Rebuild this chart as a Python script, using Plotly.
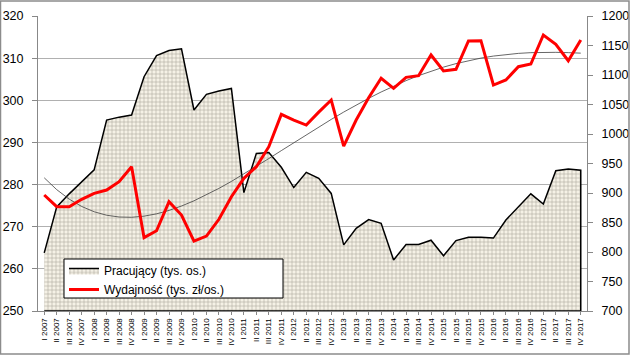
import numpy as np
import plotly.graph_objects as go

quarters = ["I", "II", "III", "IV"]
years = list(range(2007, 2018))
categories = [f"{q} {y}" for y in years for q in quarters]

pracujacy = [263.8, 274.7, 277.8, 280.6, 283.5, 295.3, 296.0, 296.5, 305.6, 310.6,
             311.8, 312.2, 297.7, 301.4, 302.2, 302.8, 278.1, 287.4, 287.6, 284.1,
             279.3, 282.9, 281.5, 277.9, 265.7, 269.6, 271.7, 270.8, 262.1, 265.8,
             265.8, 266.8, 263.1, 266.7, 267.5, 267.5, 267.3, 271.6, 274.7, 277.8,
             275.4, 283.3, 283.7, 283.4]

wydajnosc = [896.6, 876.8, 876.8, 889.3, 899.5, 905.0, 919.2, 944.6, 824.3, 836.0,
             885.3, 862.7, 818.6, 827.0, 855.4, 893.7, 924.9, 944.6, 978.5, 1033.3,
             1023.7, 1015.2, 1037.0, 1057.6, 979.6, 1023.7, 1061.6, 1094.4, 1077.4, 1096.0,
             1098.8, 1133.9, 1106.8, 1109.6, 1157.6, 1158.2, 1083.0, 1091.5, 1114.0, 1118.6,
             1167.8, 1152.0, 1124.2, 1159.3]

left_ticks = list(range(250, 321, 10))
right_ticks = list(range(700, 1201, 50))

# polynomial trendline of Wydajność (as Excel's trendline)
idx = np.arange(1, len(wydajnosc) + 1)
coef = np.polyfit(idx, wydajnosc, 4)
trend = np.polyval(coef, idx)

base = left_ticks[0]
area_x = categories + [categories[-1], categories[0]]
area_y = pracujacy + [base, base]

FONT = "Liberation Sans"
PW, PH = 549, 295  # plot area size in px

fig = go.Figure()
fig.add_trace(go.Scatter(
    x=area_x, y=area_y, mode="lines", fill="toself",
    name="Pracujący (tys. os.)",
    line=dict(color="black", width=1.5),
    fillcolor="#f2eee0",
    fillpattern=dict(shape="+", size=4, solidity=0.26, fgcolor="#a8a59a",
                     bgcolor="#f5f1e6", fillmode="replace"),
    yaxis="y", hoverinfo="skip",
))
fig.add_trace(go.Scatter(
    x=categories, y=trend, mode="lines", showlegend=False,
    line=dict(color="#404040", width=0.8), yaxis="y2", hoverinfo="skip",
))
fig.add_trace(go.Scatter(
    x=categories, y=wydajnosc, mode="lines",
    name="Wydajność (tys. zł/os.)",
    line=dict(color="#ff0000", width=3), yaxis="y2",
))

fig.update_layout(
    width=630, height=355,
    margin=dict(l=38, r=43, t=16, b=44, autoexpand=False),
    paper_bgcolor="white", plot_bgcolor="white",
    font=dict(family=FONT, color="black", size=12),
    xaxis=dict(
        type="category", categoryorder="array", categoryarray=categories,
        range=[-0.5, len(categories) - 0.5], automargin=False,
        tickangle=-90, tickfont=dict(size=8, family=FONT),
        ticks="outside", ticklen=3, tickcolor="#888888",
        showgrid=False, showline=True, linecolor="#888888", linewidth=1,
        zeroline=False,
    ),
    yaxis=dict(
        range=[left_ticks[0], left_ticks[-1]], tickvals=left_ticks,
        automargin=False,
        tickfont=dict(size=12.5, family=FONT),
        ticks="outside", ticklen=5, tickcolor="#888888",
        ticklabelstandoff=6,
        showgrid=True, gridcolor="#b0b0b0", gridwidth=1,
        showline=True, linecolor="#888888", linewidth=1, zeroline=False,
    ),
    yaxis2=dict(
        range=[right_ticks[0], right_ticks[-1]], tickvals=right_ticks,
        overlaying="y", side="right", automargin=False,
        tickfont=dict(size=12.5, family=FONT),
        ticks="outside", ticklen=5, tickcolor="#888888",
        ticklabelstandoff=6,
        showgrid=False, showline=True, linecolor="#888888", linewidth=1,
        zeroline=False,
    ),
    legend=dict(
        x=(64 - 38) / PW, y=(311 - 256) / PH, xanchor="left", yanchor="top",
        bgcolor="rgba(0,0,0,0)", borderwidth=0,
        font=dict(size=12, family=FONT),
        itemwidth=30, tracegroupgap=0,
    ),
    shapes=[
        # legend box
        dict(type="rect", xref="paper", yref="paper",
             x0=(64 - 38) / PW, x1=(283 - 38) / PW,
             y0=(311 - 298) / PH, y1=(311 - 259) / PH,
             line=dict(color="black", width=1), fillcolor="white",
             layer="above"),
        # chart border
        dict(type="rect", xref="paper", yref="paper",
             x0=-37.5 / PW, x1=1 + 42 / PW, y0=-43 / PH, y1=1 + 15 / PH,
             line=dict(color="#8c8c8c", width=1.5), fillcolor="rgba(0,0,0,0)",
             layer="above"),
    ],
)

fig.write_html(
    "out.html",
    config={"displayModeBar": False},
    post_script="document.body.style.margin='0';document.body.style.padding='0';",
)
